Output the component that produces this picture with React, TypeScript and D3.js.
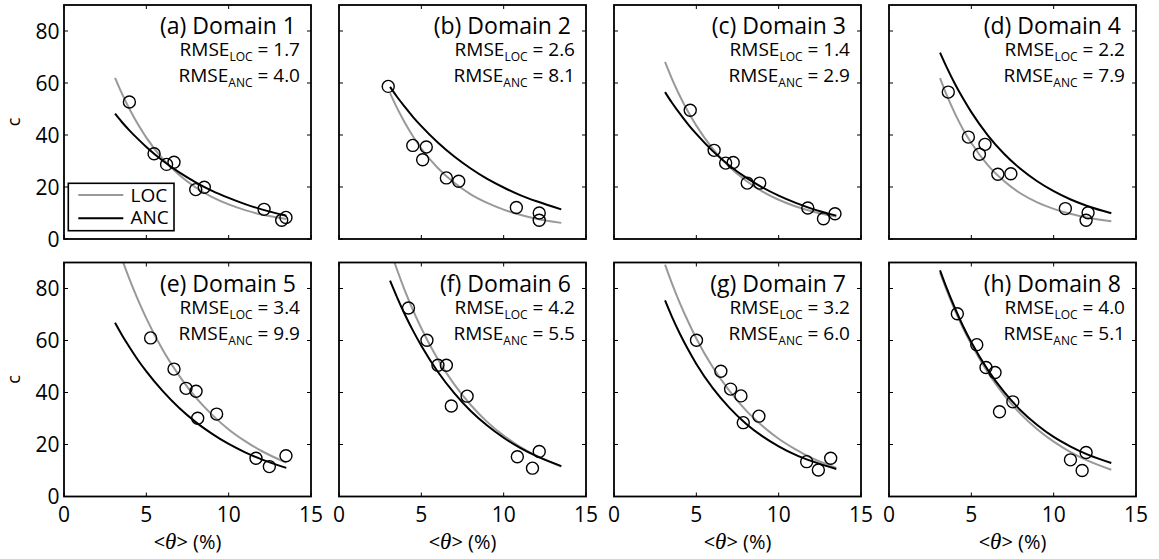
import React from "react";
import * as d3 from "d3";

const domainTitles = [
  "(a) Domain 1", "(b) Domain 2", "(c) Domain 3", "(d) Domain 4",
  "(e) Domain 5", "(f) Domain 6", "(g) Domain 7", "(h) Domain 8",
];
const rmseLoc = [1.7, 2.6, 1.4, 2.2, 3.4, 4.2, 3.2, 4.0];
const rmseAnc = [4.0, 8.1, 2.9, 7.9, 9.9, 5.5, 6.0, 5.1];

const obsTheta = [
  [3.97, 5.47, 6.23, 6.68, 8.0, 8.52, 12.15, 13.22, 13.48],
  [2.99, 4.48, 5.3, 5.08, 6.52, 7.27, 10.77, 12.16, 12.16],
  [4.63, 6.08, 6.78, 7.24, 8.09, 8.85, 11.77, 12.72, 13.42],
  [3.6, 4.82, 5.83, 5.49, 6.61, 7.4, 10.71, 12.09, 11.97],
  [5.26, 6.68, 7.41, 8.02, 8.12, 9.27, 11.66, 12.47, 13.48],
  [4.22, 5.34, 6.01, 6.52, 6.82, 7.78, 10.83, 11.75, 12.16],
  [5.01, 6.49, 7.08, 7.71, 7.85, 8.8, 11.7, 12.41, 13.16],
  [4.15, 5.33, 5.89, 6.44, 6.71, 7.52, 11.02, 11.73, 11.97],
];
const obsC = [
  [52.7, 32.8, 28.7, 29.5, 19.0, 19.9, 11.4, 7.2, 8.3],
  [58.7, 36.0, 35.4, 30.5, 23.5, 22.2, 12.1, 10.0, 7.2],
  [49.5, 34.1, 29.2, 29.4, 21.5, 21.5, 11.9, 7.8, 9.7],
  [56.5, 39.2, 36.4, 32.6, 24.9, 25.1, 11.7, 10.1, 7.2],
  [61.0, 49.0, 41.6, 40.5, 30.1, 31.7, 14.7, 11.5, 15.7],
  [72.5, 60.1, 50.5, 50.5, 34.8, 38.6, 15.3, 10.9, 17.3],
  [60.1, 48.2, 41.3, 38.7, 28.4, 30.9, 13.4, 10.2, 14.7],
  [70.3, 58.4, 49.6, 47.7, 32.6, 36.4, 14.1, 10.0, 16.9],
];

const fitTheta = [3.1, 3.5, 4, 4.5, 5, 6, 7, 8, 9, 10, 11, 12, 13.5];
const locFit = [
  [62.0, 56.2, 49.7, 44.0, 39.0, 30.8, 24.6, 19.8, 16.1, 13.3, 11.1, 9.4, 7.7],
  [56.1, 50.7, 44.7, 39.4, 34.8, 27.3, 21.6, 17.2, 13.9, 11.3, 9.3, 7.8, 6.2],
  [68.1, 61.9, 55.0, 48.9, 43.6, 34.7, 27.8, 22.5, 18.3, 15.1, 12.6, 10.7, 8.6],
  [61.9, 55.4, 48.3, 42.1, 36.9, 28.4, 22.2, 17.5, 14.1, 11.6, 9.7, 8.3, 6.8],
  [99.2, 91.7, 83.2, 75.5, 68.5, 56.3, 46.4, 38.1, 31.4, 25.8, 21.3, 17.5, 13.0],
  [95.2, 87.7, 79.2, 71.6, 64.7, 52.8, 43.1, 35.2, 28.7, 23.4, 19.1, 15.6, 11.5],
  [89.2, 82.3, 74.4, 67.3, 60.8, 49.7, 40.7, 33.2, 27.2, 22.2, 18.2, 14.8, 11.0],
  [86.1, 79.4, 71.7, 64.7, 58.5, 47.7, 38.9, 31.7, 25.9, 21.1, 17.2, 14.0, 10.3],
];
const ancFit = [
  [48.2, 45.1, 41.6, 38.4, 35.4, 30.1, 25.6, 21.8, 18.5, 15.8, 13.4, 11.4, 8.9],
  [58.5, 54.9, 50.8, 46.9, 43.4, 37.1, 31.7, 27.1, 23.1, 19.8, 16.9, 14.5, 11.4],
  [56.5, 52.6, 48.2, 44.1, 40.4, 33.8, 28.3, 23.7, 19.9, 16.7, 14.0, 11.7, 9.0],
  [71.7, 66.1, 59.7, 54.0, 48.8, 39.9, 32.7, 26.9, 22.2, 18.4, 15.3, 12.8, 9.9],
  [66.8, 62.3, 57.2, 52.4, 48.1, 40.5, 34.0, 28.6, 24.1, 20.2, 17.0, 14.3, 11.0],
  [83.0, 77.0, 70.0, 63.7, 58.0, 48.0, 39.8, 32.9, 27.3, 22.6, 18.7, 15.5, 11.7],
  [75.4, 69.4, 62.6, 56.5, 51.0, 41.7, 34.2, 28.1, 23.2, 19.3, 16.1, 13.6, 10.6],
  [87.0, 80.2, 72.5, 65.5, 59.3, 48.7, 40.1, 33.1, 27.5, 22.9, 19.3, 16.3, 12.9],
];

const xTicks = [0, 5, 10, 15];
const yTicks = [0, 20, 40, 60, 80];
const seriesNames = ["LOC", "ANC"];
const seriesColors = ["#999999", "#000000"];

const FONT = "'Open Sans', sans-serif";
const W = 247;
const H = 234;
const colLeft = [64, 339, 614, 889];
const rowTop = [5, 262.5];
const TICK = 4;

export default function App() {
  const x = d3.scaleLinear().domain([0, 15]).range([0, W]);
  const y = d3.scaleLinear().domain([0, 90]).range([H, 0]);
  const line = d3
    .line<number>()
    .x((_, i) => x(fitTheta[i]))
    .y((d) => y(d))
    .curve(d3.curveMonotoneX);

  return (
    <svg
      width={1159}
      height={559}
      style={{ position: "absolute", left: 0, top: 0, background: "#fff" }}
      fontFamily={FONT}
    >
      <defs>
        <clipPath id="plotclip">
          <rect x={0} y={0} width={W} height={H} />
        </clipPath>
      </defs>
      {domainTitles.map((title, p) => {
        const col = p % 4;
        const row = Math.floor(p / 4);
        const left = colLeft[col];
        const top = rowTop[row];
        return (
          <g key={p} transform={`translate(${left},${top})`}>
            <rect x={0} y={0} width={W} height={H} fill="#fff" />
            <g clipPath="url(#plotclip)">
              <path d={line(locFit[p]) || ""} fill="none" stroke={seriesColors[0]} strokeWidth={2} />
              <path d={line(ancFit[p]) || ""} fill="none" stroke={seriesColors[1]} strokeWidth={2} />
              {obsTheta[p].map((t, i) => (
                <circle key={i} cx={x(t)} cy={y(obsC[p][i])} r={6} fill="none" stroke="#000" strokeWidth={1.4} />
              ))}
            </g>
            {xTicks.map((t) => (
              <g key={"xt" + t}>
                <line x1={x(t)} x2={x(t)} y1={H} y2={H - TICK} stroke="#000" strokeWidth={1} />
                <line x1={x(t)} x2={x(t)} y1={0} y2={TICK} stroke="#000" strokeWidth={1} />
              </g>
            ))}
            {yTicks.map((t) => (
              <g key={"yt" + t}>
                <line x1={0} x2={TICK} y1={y(t)} y2={y(t)} stroke="#000" strokeWidth={1} />
                <line x1={W} x2={W - TICK} y1={y(t)} y2={y(t)} stroke="#000" strokeWidth={1} />
              </g>
            ))}
            <rect x={0} y={0} width={W} height={H} fill="none" stroke="#000" strokeWidth={1.8} />
            {col === 0 &&
              yTicks.map((t) => (
                <text key={"yl" + t} x={-4.5} y={y(t)} dy="0.36em" textAnchor="end" fontSize={21}>
                  {t}
                </text>
              ))}
            {row === 1 &&
              xTicks.map((t) => (
                <text key={"xl" + t} x={x(t)} y={H + 25} textAnchor="middle" fontSize={21}>
                  {t}
                </text>
              ))}
            {col === 0 && (
              <text transform={`translate(-44.5,${H / 2}) rotate(-90)`} textAnchor="middle" fontSize={18}>
                c
              </text>
            )}
            {row === 1 && (
              <text x={W / 2} y={H + 52} textAnchor="middle" fontSize={20}>
                {"<"}
                <tspan fontFamily="'Liberation Serif', serif" fontStyle="italic" fontSize={23}>θ</tspan>
                {"> (%)"}
              </text>
            )}
            <text x={W - 15} y={29} textAnchor="end" fontSize={23}>
              {title}
            </text>
            <text x={W - 11} y={51} textAnchor="end" fontSize={19}>
              RMSE
              <tspan fontSize={12} dy={5}>LOC</tspan>
              <tspan dy={-5}>{" = " + rmseLoc[p].toFixed(1)}</tspan>
            </text>
            <text x={W - 11} y={77} textAnchor="end" fontSize={19}>
              RMSE
              <tspan fontSize={12} dy={5}>ANC</tspan>
              <tspan dy={-5}>{" = " + rmseAnc[p].toFixed(1)}</tspan>
            </text>
            {p === 0 && (
              <g>
                <rect x={4.3} y={178.3} width={105.7} height={47.4} fill="#fff" stroke="#000" strokeWidth={1.6} />
                {seriesNames.map((s, i) => (
                  <g key={s}>
                    <line x1={14.3} x2={59.3} y1={190 + i * 23.3} y2={190 + i * 23.3} stroke={seriesColors[i]} strokeWidth={2} />
                    <text x={66.5} y={197 + i * 22} fontSize={19}>
                      {s}
                    </text>
                  </g>
                ))}
              </g>
            )}
          </g>
        );
      })}
    </svg>
  );
}
